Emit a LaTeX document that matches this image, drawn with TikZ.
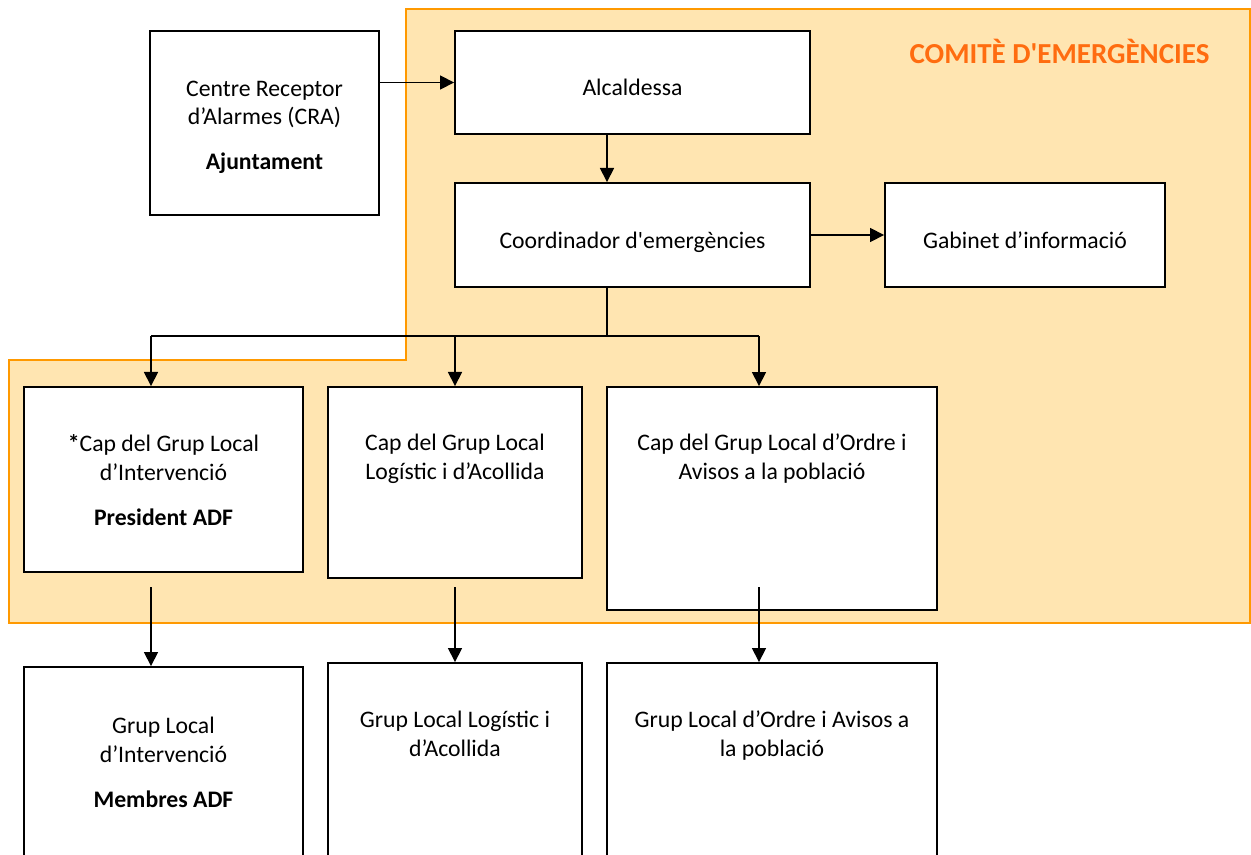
\documentclass[tikz,border=0pt]{standalone}
\usepackage{fontspec}
\setmainfont{Carlito}
\usetikzlibrary{arrows.meta}
\definecolor{comitefill}{RGB}{255,229,177}
\definecolor{comiteline}{RGB}{255,153,0}
\definecolor{comitetext}{RGB}{255,108,16}
\tikzstyle{unit}=[rectangle,draw=black,fill=white,line width=1.1pt,inner sep=0pt]
\tikzstyle{caption}=[anchor=base,align=center,inner sep=0pt,font=\fontsize{13.5}{16.4}\selectfont]
\tikzstyle{flow}=[-{Triangle[length=8pt,width=8pt]},line width=0.9pt]
\tikzstyle{comite}=[fill=comitefill,draw=comiteline,line width=1.1pt]

\begin{document}
\begin{tikzpicture}[x=0.02cm,y=-0.02cm]
                    \useasboundingbox (0,0) rectangle (1251,855);
                    \clip (0,0) rectangle (1251,855);
                    \fill[white] (0,0) rectangle (1251,855);
                    \draw [comite] (406,9) -- (1250,9) -- (1250,623) -- (9,623) -- (9,360) -- (406,360) -- cycle;
                    \node (title) at (1059.5,63.5) [caption,font=\fontsize{16.5}{20}\selectfont\bfseries,text=comitetext] {COMITÈ D\textquotesingle EMERGÈNCIES};

                    \node (cra) at (264.5,123) [unit,minimum width=4.58cm,minimum height=3.68cm] {};
                    \node (alc) at (632.5,82.5) [unit,minimum width=7.10cm,minimum height=2.06cm] {};
                    \node (coord) at (632.5,235) [unit,minimum width=7.10cm,minimum height=2.08cm] {};
                    \node (gab) at (1025,235) [unit,minimum width=5.60cm,minimum height=2.08cm] {};
                    \node (capint) at (163.5,479.5) [unit,minimum width=5.58cm,minimum height=3.70cm] {};
                    \node (caplog) at (455,482.5) [unit,minimum width=5.08cm,minimum height=3.82cm] {};
                    \node (capord) at (772,498.5) [unit,minimum width=6.60cm,minimum height=4.46cm] {};
                    \node (grint) at (163.5,783.5) [unit,minimum width=5.58cm,minimum height=4.66cm] {};
                    \node (grlog) at (455,781.5) [unit,minimum width=5.08cm,minimum height=4.74cm] {};
                    \node (grord) at (772,781.5) [unit,minimum width=6.60cm,minimum height=4.74cm] {};

                    \node (cra-t) at (264.5,169.5) [caption] {Centre Receptor\\d’Alarmes (CRA)\\[9pt]\textbf{Ajuntament}};
                    \node (alc-t) at (632.5,96) [caption] {Alcaldessa};
                    \node (coord-t) at (632.5,248) [caption] {Coordinador d\textquotesingle emergències};
                    \node (gab-t) at (1025,248) [caption] {Gabinet d’informació};
                    \node (capint-t) at (163.5,525) [caption] {\textbf{*}Cap del Grup Local\\d’Intervenció\\[9pt]\textbf{President ADF}};
                    \node (caplog-t) at (455,479) [caption] {Cap del Grup Local\\Logístic i d’Acollida};
                    \node (capord-t) at (772,479) [caption] {Cap del Grup Local d’Ordre i\\Avisos a la població};
                    \node (grint-t) at (163.5,807) [caption] {Grup Local\\d’Intervenció\\[9pt]\textbf{Membres ADF}};
                    \node (grlog-t) at (455,756) [caption] {Grup Local Logístic i\\d’Acollida};
                    \node (grord-t) at (772,756) [caption] {Grup Local d’Ordre i Avisos a\\la població};

                    \coordinate (split) at (607,336);
                    \coordinate (splitl) at (151,336);
                    \coordinate (splitr) at (759,336);
                    \coordinate (dropl) at (151,587);
                    \coordinate (dropm) at (455,587);
                    \coordinate (dropr) at (759,587);

                    \draw [flow] (cra.east |- alc.west) -- (alc.west);
                    \draw [flow] (alc.south -| split) -- (coord.north -| split);
                    \draw [flow] (coord.east) -- (gab.west);
                    \draw [line width=0.9pt] (coord.south -| split) -- (split);
                    \draw [line width=0.9pt] (splitl) -- (splitr);
                    \draw [flow] (splitl) -- (capint.north -| splitl);
                    \draw [flow] (caplog.north |- splitl) -- (caplog.north);
                    \draw [flow] (splitr) -- (capord.north -| splitr);
                    \draw [flow] (dropl) -- (grint.north -| dropl);
                    \draw [flow] (dropm) -- (grlog.north -| dropm);
                    \draw [flow] (dropr) -- (grord.north -| dropr);
                \end{tikzpicture}
\end{document}
